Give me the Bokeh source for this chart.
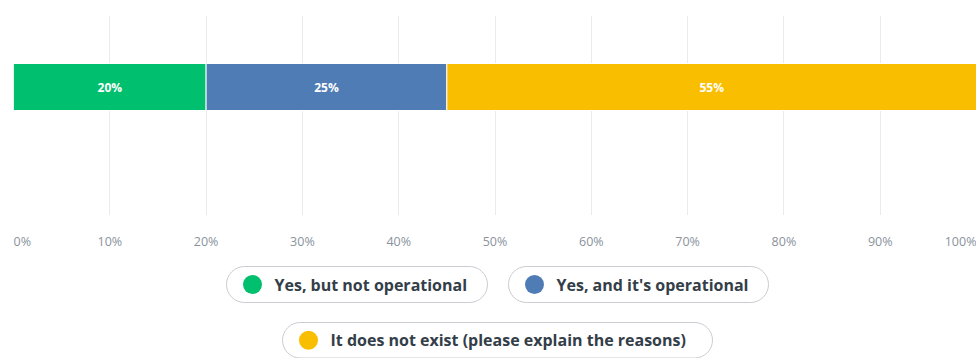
from bokeh.plotting import figure
from bokeh.layouts import column
from bokeh.models import Range1d, Grid, FixedTicker, ColumnDataSource
from bokeh.core.properties import value
from bokeh.embed import file_html
from bokeh.resources import INLINE

# ---- data ----
categories = ["Yes, but not operational", "Yes, and it's operational",
              "It does not exist (please explain the reasons)"]
values = [20, 25, 55]
colors = ["#00bf6f", "#507cb6", "#f9be00"]
tick_values = [0, 10, 20, 30, 40, 50, 60, 70, 80, 90, 100]
tick_labels = ["0%", "10%", "20%", "30%", "40%", "50%", "60%", "70%", "80%", "90%", "100%"]

FONT = value("Open Sans")
W = 976
LEFT = 13


def base(height, x_range, y_range, top=0):
    f = figure(width=W, height=height, x_range=x_range, y_range=y_range,
               output_backend="svg", toolbar_location=None,
               x_axis_location=None, y_axis_location=None,
               min_border_left=LEFT, min_border_right=0,
               min_border_top=top, min_border_bottom=0)
    f.outline_line_color = None
    f.background_fill_color = "white"
    f.border_fill_color = "white"
    f.xgrid.visible = False
    f.ygrid.visible = False
    return f


# ---- bar figure ----
x_range = Range1d(0, 100)
p = base(215, x_range, Range1d(0, 200), top=15)
p.add_layout(Grid(dimension=0, ticker=FixedTicker(ticks=tick_values),
                  grid_line_color="#ebebeb", grid_line_width=1))

lefts, rights, mids = [], [], []
acc = 0
for v in values:
    lefts.append(acc)
    rights.append(acc + v)
    mids.append(acc + v / 2)
    acc += v
src = ColumnDataSource(dict(left=lefts, right=rights, mid=mids, color=colors,
                            label=[f"{v}%" for v in values],
                            y=[128.5] * len(values)))
p.hbar(y="y", left="left", right="right", height=47, fill_color="color",
       line_color="white", line_width=1, source=src)
p.text(x="mid", y="y", text="label", source=src, text_color="white",
       text_font=FONT, text_font_size="12px", text_font_style="bold",
       text_align="center", text_baseline="middle")

# ---- tick label strip ----
t = base(40, x_range, Range1d(0, 40))
aligns = ["left"] + ["center"] * (len(tick_values) - 2) + ["right"]
tsrc = ColumnDataSource(dict(x=tick_values, y=[14] * len(tick_values),
                             text=tick_labels, align=aligns))
t.text(x="x", y="y", text="text", text_align="align", source=tsrc,
       text_color="#8a939c", text_font=FONT, text_font_size="12.5px",
       text_baseline="middle")

# ---- legend (x in page pixels) ----
lg = base(103, Range1d(LEFT, W), Range1d(0, 103))
pill_left = [226, 508, 282]
pill_right = [487, 768, 712]
pill_bottom = [56, 56, 0.5]
pill_top = [92, 92, 36]
lsrc = ColumnDataSource(dict(
    left=pill_left, right=pill_right, bottom=pill_bottom, top=pill_top,
    cx=[l + 26 for l in pill_left],
    cy=[(b + tp) / 2 for b, tp in zip(pill_bottom, pill_top)],
    tx=[l + 48 for l in pill_left],
    color=colors, label=categories))
lg.quad(left="left", right="right", bottom="bottom", top="top", source=lsrc,
        fill_color="white", line_color="#c9ccd0", line_width=1, border_radius=18)
lg.scatter(x="cx", y="cy", size=19, fill_color="color", line_color=None, source=lsrc)
lg.text(x="tx", y="cy", text="label", source=lsrc, text_color="#333e48",
        text_font=FONT, text_font_size="16px", text_font_style="bold",
        text_align="left", text_baseline="middle")

layout = column(p, t, lg, spacing=0)
open("out.html", "w").write(file_html(layout, INLINE))
